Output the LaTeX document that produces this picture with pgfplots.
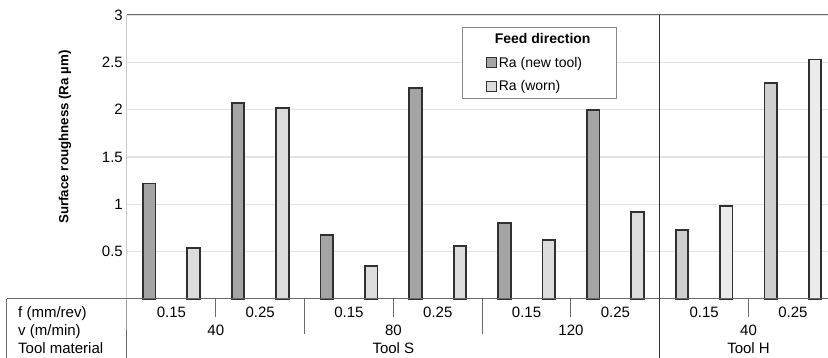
\documentclass[border=0pt]{standalone}
\usepackage{pgfplots}
\pgfplotsset{compat=1.18}
\usepackage{fontspec}
\setmainfont{Liberation Sans}

\definecolor{newbar}{HTML}{A4A4A4}
\definecolor{wornbar}{HTML}{DCDCDC}
\definecolor{hnew}{HTML}{CFCFCF}
\definecolor{hworn}{HTML}{EBEBEB}
\definecolor{edge}{HTML}{303030}
\definecolor{frame}{HTML}{6A6A6A}
\definecolor{gridc}{HTML}{E3E3E3}

\newcommand{\tabfont}{\fontsize{15}{18}\selectfont}

\pgfplotsset{
  sqlegend/.style={legend image code/.code={\draw[##1, line width=0.9pt] (0pt,-5pt) rectangle (9.5pt,5pt);}},
  barstyle/.style={draw=edge, line width=1.8pt},
}

\begin{document}
\begin{tikzpicture}[x=1pt,y=1pt]
\begin{axis}[
  scale only axis, width=701pt, height=284pt,
  xmin=-0.5, xmax=15.29, ymin=0, ymax=3,
  clip=false,
  axis line style={draw=none},
  ybar, bar width=12.5pt, bar shift=0pt,
  ytick={0.5,1,1.5,2,2.5,3},
  yticklabels={0.5,1,1.5,2,2.5,3},
  ymajorgrids, grid style={gridc, line width=1.2pt},
  major tick length=0pt,
  yticklabel style={font=\tabfont, inner sep=0pt, xshift=-4pt},
  xtick={0.5,2.5,...,14.5},
  xticklabels={0.15,0.25,0.15,0.25,0.15,0.25,0.15,0.25},
  xticklabel style={font=\tabfont, anchor=base, inner sep=0pt, yshift=-19pt},
  ylabel={\textbf{Surface roughness (Ra µm)}},
  every axis y label/.style={at={(axis description cs:0,0.5)}, xshift=-62pt, yshift=20pt, rotate=90, anchor=center, font=\fontsize{13.3}{16}\selectfont},
  legend cell align=left,
  legend style={at={(0.478,0.958)}, anchor=north west, draw=frame!80, line width=0.8pt,
    font=\fontsize{14}{17}\selectfont, inner xsep=24pt, inner ysep=4pt, row sep=8pt},
]
\addlegendimage{empty legend}
\addlegendentry{\hspace*{-4pt}\textbf{Feed direction}}

% Tool S, new tool
\addplot[fill=newbar, barstyle, sqlegend]
  coordinates {(0,1.22) (2,2.07) (4,0.68) (6,2.23) (8,0.80) (10,2.00)};
\addlegendentry{Ra (new tool)}
% Tool S, worn tool
\addplot[fill=wornbar, barstyle, sqlegend]
  coordinates {(1,0.54) (3,2.02) (5,0.35) (7,0.56) (9,0.62) (11,0.92)};
\addlegendentry{Ra (worn)}
% Tool H
\addplot[fill=hnew, barstyle, forget plot] coordinates {(12,0.73) (14,2.28)};
\addplot[fill=hworn, barstyle, forget plot] coordinates {(13,0.98) (15,2.53)};

% frame and table rules
\draw[frame, line width=1pt] (axis cs:-0.5,3) -- (axis cs:15.29,3);
\draw[frame, line width=1pt] (axis cs:-0.5,3) -- (axis cs:-0.5,0) -- ++(0pt,-59pt);
\draw[frame, line width=1pt] ([xshift=-120pt]axis cs:-0.5,0) -- (axis cs:15.29,0);
\draw[frame, line width=1pt] ([xshift=-120pt]axis cs:-0.5,0) -- ++(0pt,-59pt);
\draw[frame, line width=1pt] (axis cs:1.5,0) -- ++(0pt,-18pt);
\draw[frame, line width=1pt] (axis cs:5.5,0) -- ++(0pt,-18pt);
\draw[frame, line width=1pt] (axis cs:9.5,0) -- ++(0pt,-18pt);
\draw[frame, line width=1pt] (axis cs:13.5,0) -- ++(0pt,-18pt);
\draw[frame, line width=1pt] (axis cs:3.5,0) -- ++(0pt,-35pt);
\draw[frame, line width=1pt] (axis cs:7.5,0) -- ++(0pt,-35pt);
\draw[edge, line width=1.2pt] (axis cs:11.5,3) -- (axis cs:11.5,0) -- ++(0pt,-59pt);

% table text
\node[font=\tabfont, anchor=base west, inner sep=0pt] at ([xshift=-109pt,yshift=-19pt]axis cs:-0.5,0) {f (mm/rev)};
\node[font=\tabfont, anchor=base west, inner sep=0pt] at ([xshift=-109pt,yshift=-37pt]axis cs:-0.5,0) {v (m/min)};
\node[font=\tabfont, anchor=base west, inner sep=0pt] at ([xshift=-109pt,yshift=-55pt]axis cs:-0.5,0) {Tool material};
\node[font=\tabfont, anchor=base, inner sep=0pt] at ([yshift=-37pt]axis cs:1.5,0) {40};
\node[font=\tabfont, anchor=base, inner sep=0pt] at ([yshift=-37pt]axis cs:5.5,0) {80};
\node[font=\tabfont, anchor=base, inner sep=0pt] at ([yshift=-37pt]axis cs:9.5,0) {120};
\node[font=\tabfont, anchor=base, inner sep=0pt] at ([yshift=-37pt]axis cs:13.5,0) {40};
\node[font=\tabfont, anchor=base, inner sep=0pt] at ([yshift=-55pt]axis cs:5.5,0) {Tool S};
\node[font=\tabfont, anchor=base, inner sep=0pt] at ([yshift=-55pt]axis cs:13.5,0) {Tool H};
\end{axis}
\pgfresetboundingbox
\useasboundingbox (-127pt,-59pt) rectangle (701pt,299pt);
\end{tikzpicture}
\end{document}
